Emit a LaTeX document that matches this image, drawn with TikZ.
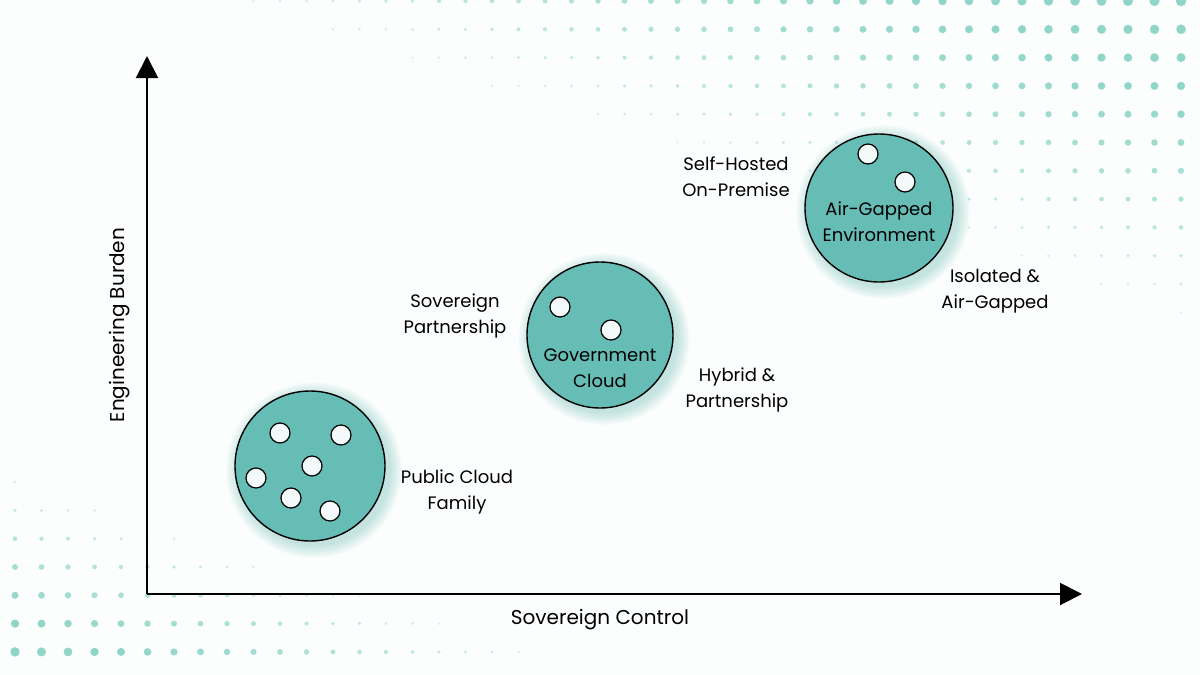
\documentclass[tikz,border=0pt]{standalone}
\usepackage{fontspec}
\setmainfont{Poppins}
\usetikzlibrary{arrows.meta}
\definecolor{teal1}{HTML}{66BDB5}
\definecolor{dotc}{HTML}{8FD6C8}
\begin{document}
\begin{tikzpicture}[x=1pt,y=-1pt,
  lab/.style={align=center,font=\fontsize{18}{26}\selectfont,text=black},
  big/.style={circle,draw=black,line width=1.4pt,fill=teal1},
  small/.style={circle,draw=black,line width=1.2pt,fill=white!92!teal1,minimum size=20pt,inner sep=0pt},
  axis/.style={line width=2pt,-{Triangle[length=22pt,width=22pt]}}]
\useasboundingbox (0,0) rectangle (1200,675);
\fill[white!98!teal1] (0,0) rectangle (1200,675);
% dots
\foreach \i in {0,...,44}{
 \foreach \j in {0,...,23}{
  \pgfmathsetmacro{\xx}{15+26.5*\i}
  \pgfmathsetmacro{\yy}{1+28.3*\j}
  \pgfmathsetmacro{\a}{max(0,1-(1200-\xx)/1050-\yy/350)}
  \pgfmathsetmacro{\b}{max(0,1-\xx/650-(675-\yy)/220)}
  \pgfmathsetmacro{\c}{max(\a,\b)}
  \pgfmathsetmacro{\op}{min(1,0.3+\c)}
  \ifdim\c pt>0.08pt
   \fill[dotc,opacity=\op] (\xx,\yy) circle ({0.8+4.5*\c});
  \fi
 }}
% glows
\foreach \p/\r in {{(314,470)}/75,{(604,339)}/73,{(883,212)}/74}{
 \foreach \k in {1,...,8}{
  \fill[teal1,opacity=0.05] \p circle ({\r+1.6*\k});
 }}
\node[big,minimum size=150pt] (pub) at (310,466) {};
\node[big,minimum size=146pt] (gov) at (600,335) {};
\node[big,minimum size=148pt] (air) at (879,208) {};
\foreach \n/\x/\y in {p1/280/433,p2/341/435,p3/312/466,p4/256/478,p5/291/498,p6/330/511,g1/560/307,g2/611/330,a1/868/154,a2/905/182}
 \node[small] (\n) at (\x,\y) {};
\node[lab] (govt) at (600,368) {Government\\Cloud};
\node[lab] (airt) at (879,222) {Air-Gapped\\Environment};
\node[lab] (l1) at (736,177) {Self-Hosted\\On-Premise};
\node[lab] (l2) at (995,291) {Isolated \&\\Air-Gapped};
\node[lab] (l3) at (455,316) {Sovereign\\Partnership};
\node[lab] (l4) at (737,390) {Hybrid \&\\Partnership};
\node[lab] (l5) at (457,492) {Public Cloud\\Family};
% axes
\coordinate (o) at (147,594);
\coordinate (yt) at (147,56);
\coordinate (xt) at (1082,594);
\draw[axis] (o) -- (yt);
\draw[axis] (o) -- (xt);
\node[lab,font=\fontsize{20}{24}\selectfont] (xl) at (600,620) {Sovereign Control};
\node[lab,font=\fontsize{20}{24}\selectfont,rotate=90] (yl) at (120,325) {Engineering Burden};
\end{tikzpicture}
\end{document}
